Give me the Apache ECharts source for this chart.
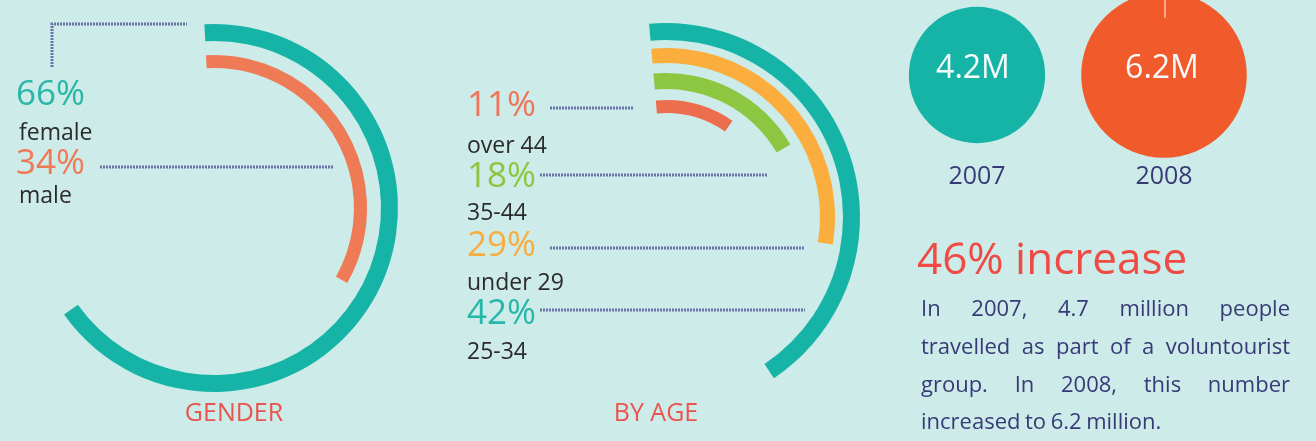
<!DOCTYPE html>
<html>
<head>
<meta charset="utf-8">
<script src="https://cdn.jsdelivr.net/npm/echarts@6/dist/echarts.min.js"></script>
<style>
html,body{margin:0;padding:0;background:#cdebe8;}
#main{width:1316px;height:441px;}
</style>
</head>
<body>
<div id="main"></div>
<script>
// ---- data ----
const genderCats = ['female', 'male'];
const genderVals = [66, 34];
const ageCats = ['over 44', '35-44', 'under 29', '25-34'];
const ageVals = [11, 18, 29, 42];
const years = ['2007', '2008'];
const travellers = [4.2, 6.2];
const increasePct = 46;
const paraLines = [
  'In 2007, 4.7 million people',
  'travelled as part of a voluntourist',
  'group. In 2008, this number',
  'increased to 6.2 million.'
];

// ---- style ----
const FONT = '"Open Sans", "Noto Sans", sans-serif';
const NAVY = '#373a77';
const DOT = '#6a72a6';
const genderColors = ['#16b4a7', '#ef7b56'];
const genderTextColors = ['#27b6a8', '#f07a55'];
const genderRadii = [[167, 184], [140, 153]];
const ageColors = ['#ec6e4f', '#8dc641', '#fbae3e', '#16b4a7'];
const ageTextColors = ['#ee7559', '#8cc63f', '#f9ad3f', '#25b7a9'];
const ageRadii = [[104, 117], [128, 144], [154, 169], [177, 194]];

function ring(center, radius, startAngle, value, color) {
  return {
    type: 'pie', center: center, radius: radius, startAngle: startAngle,
    clockwise: true, silent: true, animation: false,
    label: {show: false}, labelLine: {show: false},
    emphasis: {disabled: true},
    itemStyle: {borderWidth: 0},
    data: [
      {value: value, itemStyle: {color: color}},
      {value: 100 - value, itemStyle: {color: 'rgba(0,0,0,0)'}}
    ]
  };
}

const series = [];
genderVals.forEach((v, i) => series.push(ring([214, 208], genderRadii[i], 93, v, genderColors[i])));
ageVals.forEach((v, i) => series.push(ring([666, 217], ageRadii[i], 95, v, ageColors[i])));

series.push({
  type: 'scatter', xAxisIndex: 0, yAxisIndex: 0, silent: true, animation: false,
  data: travellers.map((v, i) => ({
    value: [i, 0.5, v],
    itemStyle: {color: i === 0 ? '#15b4a7' : '#f15a2a', opacity: 1},
    label: {offset: i === 0 ? [-4, -6] : [-2, -6]}
  })),
  symbolSize: d => 66.5 * Math.sqrt(d[2]),
  label: {
    show: true, position: 'inside', color: '#f4fbfa',
    fontFamily: FONT, fontSize: 32,
    formatter: p => p.value[2].toFixed(1) + 'M'
  }
});

// ---- graphic texts ----
const g = [];
function txt(x, y, text, size, color, align, weight) {
  g.push({type: 'text', x: x, y: y, silent: true, z: 20,
    style: {text: text, font: (weight || 'normal') + ' ' + size + 'px ' + FONT, fill: color,
      textAlign: align || 'left', textVerticalAlign: 'middle', align: align || 'left', verticalAlign: 'middle'}});
}
function dotted(points) {
  g.push({type: 'polyline', silent: true, z: 15, shape: {points: points},
    style: {stroke: DOT, lineWidth: 3, lineDash: [2, 1], fill: null}});
}

// gender labels
dotted([[52, 67], [52, 24], [187, 24]]);
dotted([[100, 167], [333, 167]]);
const gPctY = [95, 164], gCatY = [133, 196];
genderVals.forEach((v, i) => {
  txt(16, gPctY[i], v + '%', 35, genderTextColors[i]);
  txt(19, gCatY[i], genderCats[i], 23, '#2b2b2b');
});
txt(234, 414, 'GENDER', 25, '#e9554e', 'center');

// age labels
const aPctY = [106, 177, 246, 314], aCatY = [146, 213, 283, 352];
const aLines = [[[550, 108], [633, 108]], [[540, 175], [768, 175]], [[550, 248], [805, 248]], [[540, 310], [805, 310]]];
aLines.forEach(l => dotted(l));
ageVals.forEach((v, i) => {
  txt(467, aPctY[i], v + '%', 35, ageTextColors[i]);
  txt(467, aCatY[i], ageCats[i], 23, '#2b2b2b');
});
txt(656, 414, 'BY AGE', 25, '#e9554e', 'center');

// thin line on top of 2008 bubble
g.push({type: 'line', silent: true, z: 20, shape: {x1: 1165, y1: 0, x2: 1165, y2: 18},
  style: {stroke: '#f7c2ad', lineWidth: 1.5}});

// increase headline
txt(917, 261, increasePct + '% increase', 44, '#ef4a43');

// justified paragraph
const PSIZE = 22;
const ctx = document.createElement('canvas').getContext('2d');
ctx.font = PSIZE + 'px ' + FONT;
const pLeft = 921, pRight = 1290, pY = [310, 348, 386, 423];
paraLines.forEach((line, li) => {
  const words = line.split(' ');
  const widths = words.map(w => ctx.measureText(w).width);
  const total = widths.reduce((a, b) => a + b, 0);
  const last = li === paraLines.length - 1;
  const gap = last ? ctx.measureText(' ').width * 0.8 : (pRight - pLeft - total) / (words.length - 1);
  let x = pLeft;
  words.forEach((w, wi) => {
    txt(x, pY[li], w, PSIZE, NAVY);
    x += widths[wi] + gap;
  });
});

const option = {
  backgroundColor: '#cdebe8',
  animation: false,
  grid: {left: 883.5, width: 374, top: 0, height: 150, containLabel: false},
  xAxis: {
    type: 'category', data: years, boundaryGap: true,
    axisLine: {show: false}, axisTick: {show: false}, splitLine: {show: false},
    axisLabel: {color: NAVY, fontFamily: FONT, fontSize: 25, margin: 14}
  },
  yAxis: {type: 'value', min: 0, max: 1, show: false},
  series: series,
  graphic: g
};

const chart = echarts.init(document.getElementById('main'));
chart.setOption(option);
</script>
</body>
</html>
